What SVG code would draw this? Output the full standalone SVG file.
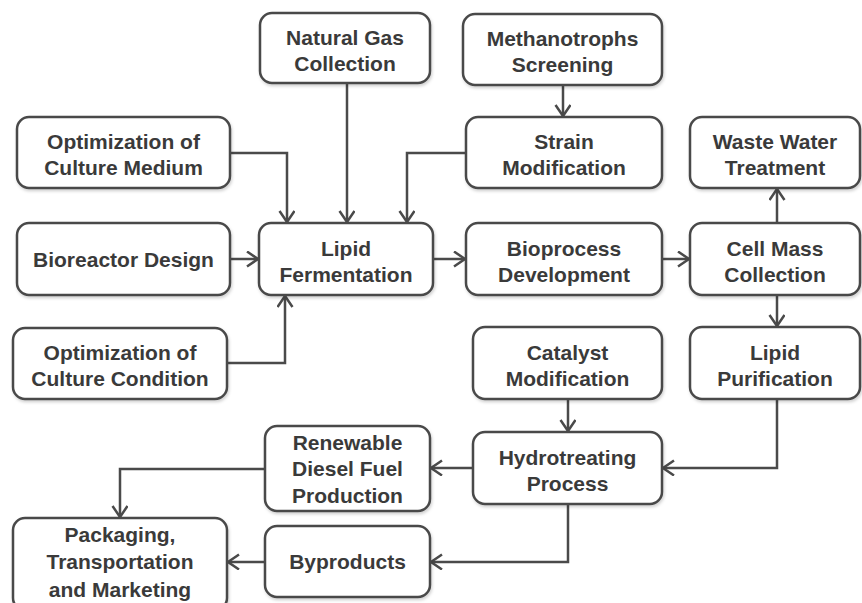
<svg xmlns="http://www.w3.org/2000/svg" width="862" height="603" viewBox="0 0 862 603">
<defs>
<style>
.box{fill:#fff;stroke:#4a4a4a;stroke-width:2.5;filter:url(#sh)}
.t{font-family:"Liberation Sans",Arial,sans-serif;font-weight:bold;font-size:21px;fill:#3a3a3a;text-anchor:middle}
.c{fill:none;stroke:#4a4a4a;stroke-width:2.5;marker-end:url(#ah)}
</style>
<filter id="sh" x="-10%" y="-10%" width="120%" height="130%">
<feDropShadow dx="1" dy="2" stdDeviation="1.5" flood-color="#000" flood-opacity="0.18"/>
</filter>
<marker id="ah" markerUnits="userSpaceOnUse" markerWidth="15" markerHeight="18" refX="12" refY="8" orient="auto">
<path d="M1,0.5 L12,8 L1,15.5" fill="none" stroke="#4a4a4a" stroke-width="2.5"/>
</marker>
</defs>
<rect width="862" height="603" fill="#fff"/>
<g id="connectors">
<path class="c" d="M347,83 V222"/>
<path class="c" d="M230,153 H287 V222"/>
<path class="c" d="M466,153 H407 V222"/>
<path class="c" d="M230,259 H258"/>
<path class="c" d="M227,363 H285 V296"/>
<path class="c" d="M433,259 H465"/>
<path class="c" d="M563,85 V116"/>
<path class="c" d="M662,259 H689"/>
<path class="c" d="M777,223 V189"/>
<path class="c" d="M777,295 V326"/>
<path class="c" d="M777,399 V468 H663"/>
<path class="c" d="M568,399 V431"/>
<path class="c" d="M473,468 H431"/>
<path class="c" d="M568,504 V562 H431"/>
<path class="c" d="M265,469 H120 V517"/>
<path class="c" d="M265,562 H228"/>
</g>
<g id="natural-gas"><rect class="box" x="260" y="13" width="170" height="70" rx="12"/><text class="t" x="345" y="45">Natural Gas</text><text class="t" x="345" y="71">Collection</text></g>
<g id="methanotrophs"><rect class="box" x="463" y="14" width="199" height="71" rx="12"/><text class="t" x="562.5" y="46">Methanotrophs</text><text class="t" x="562.5" y="72">Screening</text></g>
<g id="opt-medium"><rect class="box" x="17" y="117" width="213" height="71" rx="12"/><text class="t" x="123.5" y="149">Optimization of</text><text class="t" x="123.5" y="175">Culture Medium</text></g>
<g id="strain"><rect class="box" x="466" y="117" width="196" height="71" rx="12"/><text class="t" x="564" y="149">Strain</text><text class="t" x="564" y="175">Modification</text></g>
<g id="waste-water"><rect class="box" x="690" y="117" width="170" height="71" rx="12"/><text class="t" x="775" y="149">Waste Water</text><text class="t" x="775" y="175">Treatment</text></g>
<g id="bioreactor"><rect class="box" x="17" y="223" width="213" height="72" rx="12"/><text class="t" x="123.5" y="267">Bioreactor Design</text></g>
<g id="lipid-fermentation"><rect class="box" x="259" y="223" width="174" height="72" rx="12"/><text class="t" x="346" y="256">Lipid</text><text class="t" x="346" y="282">Fermentation</text></g>
<g id="bioprocess"><rect class="box" x="466" y="223" width="196" height="72" rx="12"/><text class="t" x="564" y="256">Bioprocess</text><text class="t" x="564" y="282">Development</text></g>
<g id="cell-mass"><rect class="box" x="690" y="223" width="170" height="72" rx="12"/><text class="t" x="775" y="256">Cell Mass</text><text class="t" x="775" y="282">Collection</text></g>
<g id="opt-condition"><rect class="box" x="13" y="328" width="214" height="71" rx="12"/><text class="t" x="120" y="360">Optimization of</text><text class="t" x="120" y="386">Culture Condition</text></g>
<g id="catalyst"><rect class="box" x="473" y="327" width="189" height="72" rx="12"/><text class="t" x="567.5" y="360">Catalyst</text><text class="t" x="567.5" y="386">Modification</text></g>
<g id="lipid-purification"><rect class="box" x="690" y="327" width="170" height="72" rx="12"/><text class="t" x="775" y="360">Lipid</text><text class="t" x="775" y="386">Purification</text></g>
<g id="renewable"><rect class="box" x="265" y="426" width="165" height="85" rx="12"/><text class="t" x="347.5" y="450">Renewable</text><text class="t" x="347.5" y="476">Diesel Fuel</text><text class="t" x="347.5" y="503">Production</text></g>
<g id="hydrotreating"><rect class="box" x="473" y="432" width="189" height="72" rx="12"/><text class="t" x="567.5" y="465">Hydrotreating</text><text class="t" x="567.5" y="491">Process</text></g>
<g id="packaging"><rect class="box" x="13" y="518" width="214" height="92" rx="12"/><text class="t" x="120" y="542">Packaging,</text><text class="t" x="120" y="569">Transportation</text><text class="t" x="120" y="597">and Marketing</text></g>
<g id="byproducts"><rect class="box" x="265" y="526" width="165" height="71" rx="12"/><text class="t" x="347.5" y="569">Byproducts</text></g>
</svg>
